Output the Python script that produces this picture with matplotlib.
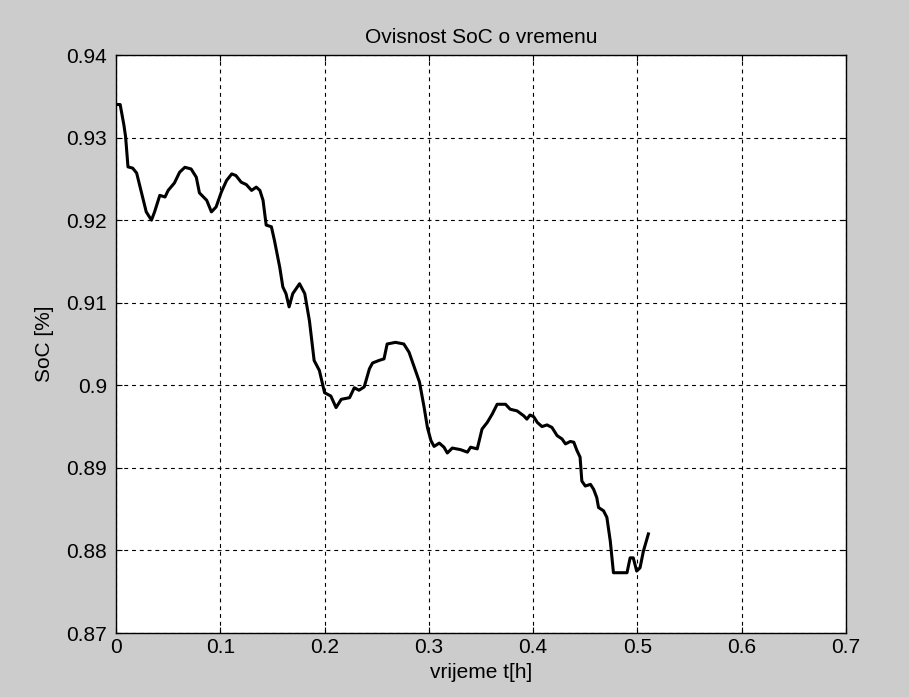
import matplotlib
matplotlib.use("Agg")
import matplotlib.pyplot as plt

t_hours = [0.000, 0.004, 0.0076, 0.0092, 0.0115, 0.016, 0.0198, 0.0245, 0.029, 0.034,
           0.037, 0.042, 0.047, 0.050, 0.056, 0.061, 0.066, 0.072, 0.077, 0.080,
           0.087, 0.0915, 0.096, 0.101, 0.106, 0.111, 0.115, 0.120, 0.125, 0.130,
           0.1345, 0.138, 0.141, 0.144, 0.149, 0.152, 0.157, 0.160, 0.163, 0.166,
           0.1695, 0.176, 0.181, 0.1855, 0.190, 0.195, 0.200, 0.206, 0.211, 0.216,
           0.224, 0.2285, 0.233, 0.238, 0.243, 0.246, 0.252, 0.257, 0.260, 0.268,
           0.276, 0.281, 0.286, 0.291, 0.2955, 0.2986, 0.302, 0.305, 0.310, 0.3145,
           0.3177, 0.3225, 0.3305, 0.337, 0.340, 0.3464, 0.351, 0.356, 0.3607, 0.3655,
           0.3735, 0.378, 0.3846, 0.391, 0.394, 0.397, 0.4005, 0.404, 0.4085, 0.4133,
           0.418, 0.423, 0.4277, 0.431, 0.4357, 0.439, 0.442, 0.445, 0.4467, 0.450,
           0.455, 0.458, 0.461, 0.4627, 0.4675, 0.4707, 0.474, 0.477, 0.490, 0.493,
           0.496, 0.4993, 0.5025, 0.5057, 0.5105]
soc = [0.9340, 0.9340, 0.9315, 0.9301, 0.92645, 0.9263, 0.9257, 0.9233, 0.9210, 0.9200,
       0.9210, 0.9230, 0.9228, 0.9236, 0.9245, 0.9258, 0.9264, 0.9262, 0.9252, 0.9233,
       0.9224, 0.9210, 0.9216, 0.9234, 0.9248, 0.9256, 0.9254, 0.9246, 0.9243, 0.9236,
       0.9240, 0.9236, 0.9224, 0.9194, 0.9192, 0.9175, 0.9143, 0.9119, 0.9111, 0.9095,
       0.9111, 0.9123, 0.9111, 0.9078, 0.9030, 0.9018, 0.8991, 0.8987, 0.8973, 0.8983,
       0.8985, 0.8997, 0.8994, 0.8998, 0.9020, 0.9027, 0.9030, 0.9032, 0.9050, 0.9052,
       0.9050, 0.9040, 0.9022, 0.9004, 0.8973, 0.8949, 0.8933, 0.8926, 0.8930, 0.8925,
       0.8918, 0.8924, 0.8922, 0.8919, 0.8925, 0.8923, 0.8947, 0.8955, 0.8965, 0.8977,
       0.8977, 0.8971, 0.8969, 0.8963, 0.8959, 0.8964, 0.8962, 0.8955, 0.8950, 0.8952,
       0.8949, 0.8939, 0.8935, 0.8929, 0.8932, 0.8931, 0.8921, 0.8913, 0.8884, 0.8878,
       0.8880, 0.8874, 0.8864, 0.8852, 0.8848, 0.8840, 0.8811, 0.8773, 0.8773, 0.8791,
       0.8791, 0.8775, 0.8779, 0.8799, 0.8820]

x_ticks = [0, 0.1, 0.2, 0.3, 0.4, 0.5, 0.6, 0.7]
x_tick_labels = ["0", "0.1", "0.2", "0.3", "0.4", "0.5", "0.6", "0.7"]
y_ticks = [0.87, 0.88, 0.89, 0.90, 0.91, 0.92, 0.93, 0.94]
y_tick_labels = ["0.87", "0.88", "0.89", "0.9", "0.91", "0.92", "0.93", "0.94"]

plt.rcParams['font.family'] = ['Liberation Sans', 'DejaVu Sans']

FS = 15

fig = plt.figure(figsize=(9.09, 6.97), dpi=100, facecolor='#cccccc')
ax = fig.add_axes([116/909, 1 - 633/697, (846 - 116)/909, (633 - 55)/697])
ax.set_facecolor('white')

ax.plot(t_hours, soc, color='black', linewidth=2.2)

ax.set_xlim(0, 0.7)
ax.set_ylim(0.87, 0.94)
ax.set_xticks(x_ticks)
ax.set_xticklabels(x_tick_labels)
ax.set_yticks(y_ticks)
ax.set_yticklabels(y_tick_labels)

ax.grid(True, color='black', linestyle=(0, (3.5, 3.5)), linewidth=0.8)
ax.tick_params(direction='in', top=True, right=True, length=4, width=0.8,
               labelsize=FS, colors='black')
ax.tick_params(axis='x', pad=3.6)
ax.tick_params(axis='y', pad=6.5)
for s in ax.spines.values():
    s.set_linewidth(1.0)
    s.set_color('black')

ax.set_title("Ovisnost SoC o vremenu", fontsize=FS, pad=8.3)
ax.set_xlabel("vrijeme t[h]", fontsize=FS, labelpad=4)
ax.set_ylabel("SoC [%]", fontsize=FS, labelpad=8.6)

fig.savefig("out.png", dpi=100, facecolor=fig.get_facecolor())
